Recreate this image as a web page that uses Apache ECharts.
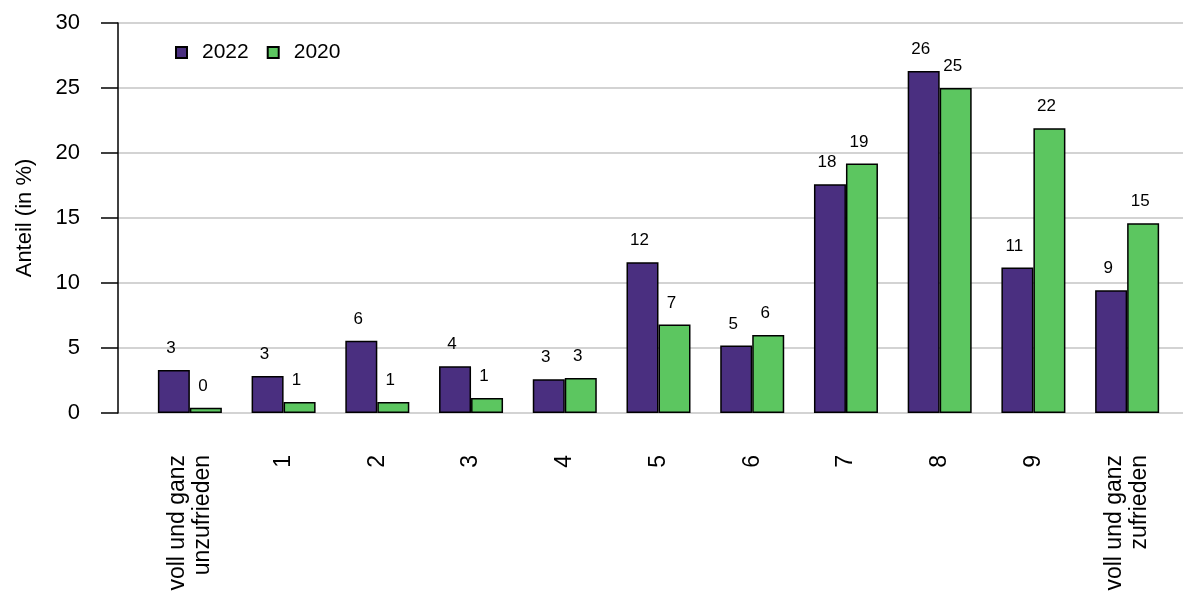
<!DOCTYPE html>
<html>
<head>
<meta charset="utf-8">
<script src="https://cdn.jsdelivr.net/npm/echarts@6/dist/echarts.min.js"></script>
<style>
  html, body { margin: 0; padding: 0; background: #fff; }
  #chart { width: 1183px; height: 598px; }
</style>
</head>
<body>
<div id="chart"></div>
<script>
const categories = ['voll und ganz\nunzufrieden', '1', '2', '3', '4', '5', '6', '7', '8', '9', 'voll und ganz\nzufrieden'];
const values2022 = [3.3, 2.85, 5.55, 3.6, 2.6, 11.6, 5.2, 17.6, 26.3, 11.2, 9.45];
const values2020 = [0.4, 0.85, 0.85, 1.15, 2.7, 6.8, 6.0, 19.2, 25.0, 21.9, 14.6];
const yTicks = { min: 0, max: 30, interval: 5 };

const font = 'Liberation Sans, Arial, sans-serif';
const chart = echarts.init(document.getElementById('chart'));

const labelOpt = {
  show: true,
  position: 'top',
  distance: 13,
  offset: [-3, 0],
  fontFamily: font,
  fontSize: 17,
  color: '#000',
  formatter: p => Math.round(p.value)
};

chart.setOption({
  animation: false,
  textStyle: { fontFamily: font },
  legend: {
    data: ['2022', '2020'],
    left: 170,
    top: 37,
    itemWidth: 11,
    itemHeight: 11,
    itemGap: 18,
    icon: 'rect',
    textStyle: { fontSize: 21, color: '#000', fontFamily: font, padding: [0, 0, 0, 10] }
  },
  grid: [
    // gridlines and y axis
    { left: 118, right: 0, top: 23, bottom: 185 },
    // bars
    { left: 143, right: 9, top: 23, bottom: 185 }
  ],
  xAxis: [
    { type: 'category', gridIndex: 0, data: [], show: false },
    {
      type: 'category',
      gridIndex: 1,
      data: categories,
      axisLine: { show: false },
      axisTick: { show: false },
      axisLabel: {
        rotate: 90,
        margin: 42,
        fontSize: 23,
        lineHeight: 25,
        color: '#000',
        fontFamily: font,
        interval: 0
      }
    }
  ],
  yAxis: [
    {
      type: 'value',
      gridIndex: 0,
      min: yTicks.min,
      max: yTicks.max,
      interval: yTicks.interval,
      name: 'Anteil (in %)',
      nameLocation: 'middle',
      nameGap: 82,
      nameTextStyle: { fontSize: 22, color: '#000', fontFamily: font },
      axisLine: { show: true, lineStyle: { color: '#000', width: 1.5 } },
      axisTick: { show: true, length: 17, lineStyle: { color: '#000', width: 1.5 } },
      axisLabel: { fontSize: 22, color: '#000', margin: 38, fontFamily: font },
      splitLine: { show: true, lineStyle: { color: '#c4c4c4', width: 1.5 } }
    },
    {
      type: 'value',
      gridIndex: 1,
      min: yTicks.min,
      max: yTicks.max,
      interval: yTicks.interval,
      show: false,
      splitLine: { show: false }
    }
  ],
  series: [
    {
      name: '2022',
      type: 'bar',
      xAxisIndex: 1,
      yAxisIndex: 1,
      data: values2022,
      barWidth: 32,
      barGap: '0%',
      itemStyle: { color: '#4a2f80', borderColor: '#000', borderWidth: 1.5 },
      label: labelOpt
    },
    {
      name: '2020',
      type: 'bar',
      xAxisIndex: 1,
      yAxisIndex: 1,
      data: values2020,
      barWidth: 32,
      barGap: '0%',
      itemStyle: { color: '#5cc660', borderColor: '#000', borderWidth: 1.5 },
      label: labelOpt
    }
  ]
});
</script>
</body>
</html>
